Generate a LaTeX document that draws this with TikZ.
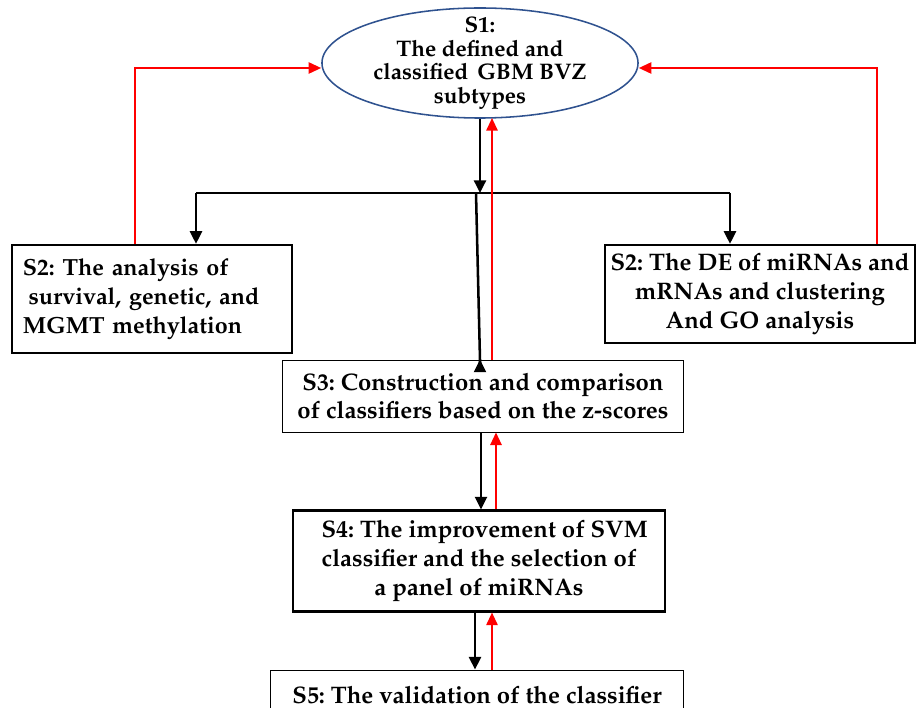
\documentclass[tikz,border=0pt]{standalone}
\usepackage[T1]{fontenc}
\usepackage{mathpazo}
\usetikzlibrary{arrows.meta,shapes.geometric}

\definecolor{ellblue}{RGB}{47,82,143}
\frenchspacing

\tikzset{
  stage/.style={draw, rectangle, line width=1.6pt, inner sep=2pt,
    font=\bfseries\fontsize{17}{20.6}\selectfont, align=center},
  thinstage/.style={stage, line width=0.6pt},
  goal/.style={draw=ellblue, ellipse, line width=1.1pt, inner xsep=0pt, inner ysep=-10pt,
    font=\bfseries\fontsize{16}{16.6}\selectfont, align=center},
  fwd/.style={line width=1.8pt, -{Triangle[length=9pt,width=8.5pt]}},
  back/.style={red, line width=1.5pt, -{Triangle[length=9pt,width=8pt]}},
  wire/.style={line width=1.8pt}
}

\begin{document}
\begin{tikzpicture}[x=0.025cm, y=-0.025cm]
  \useasboundingbox (0, 0) rectangle (916, 708);
  %\draw[lightgray] (0, 0) grid[step=50] (916, 708);

  \node [goal, minimum width=7.9cm, minimum height=2.75cm] (s1) at (480, 63)
    {S1:\\The defined and\\classified\hspace{0.4em}GBM BVZ\\subtypes};
  \node [stage, align=left, text width=6.45cm, font=\bfseries\fontsize{16.6}{20.6}\selectfont,
         minimum width=7cm, minimum height=2.7cm] (s2a) at (152, 299)
    {S2: The analysis of\\\hspace{4pt}survival, genetic, and\\MGMT methylation};
  \node [stage, minimum width=7.75cm, minimum height=2.45cm] (s2b) at (760, 294)
    {S2: The DE of miRNAs and\\mRNAs and clustering\\And GO analysis};
  \node [thinstage, minimum width=10.02cm, minimum height=1.8cm] (s3) at (483, 396)
    {S3: Construction and comparison\\of classifiers based on the z-scores};
  \node [stage, minimum width=9.3cm, minimum height=2.52cm] (s4) at (479, 561)
    {\hspace{8pt}S4: The improvement of SVM\\classifier and the selection of\\a panel of miRNAs};
  \node [thinstage, minimum width=10.33cm, minimum height=1.25cm] (s5) at (477, 695)
    {S5: The validation of the classifier};

  % fan-out bus under S1
  \coordinate (bus) at (480, 193);
  \coordinate (busl) at (196, 193);
  \coordinate (busr) at (730, 193);
  \coordinate (busm) at (476, 193);
  \draw[fwd] (s1.south) -- (bus);
  \draw[wire] (busl) -- (busr);
  \draw[fwd] (busl) -- (busl |- s2a.north);
  \draw[fwd] (busr) -- (busr |- s2b.north);
  \draw[fwd] (busm) -- (480, 360) coordinate (s3in) -- (s3in |- s3.north);

  % feedback to S1
  \coordinate (retl) at (135, 68);
  \coordinate (retr) at (877, 68);
  \draw[back] (retl |- s2a.north) -- (retl) -- (s1.west |- retl);
  \draw[back] (retr |- s2b.north) -- (retr) -- (s1.east |- retr);
  \coordinate (up1) at (492, 0);
  \draw[back] (up1 |- s3.north) -- (492, 118);

  % S3 <-> S4 <-> S5
  \coordinate (dn2) at (481, 0);
  \coordinate (up2) at (496, 0);
  \draw[fwd] (dn2 |- s3.south) -- (dn2 |- s4.north);
  \draw[back] (up2 |- s4.north) -- (up2 |- s3.south);
  \coordinate (dn3) at (475, 0);
  \coordinate (up3) at (492, 0);
  \draw[fwd] (dn3 |- s4.south) -- (dn3 |- s5.north);
  \draw[back] (up3 |- s5.north) -- (up3 |- s4.south);
\end{tikzpicture}
\end{document}
